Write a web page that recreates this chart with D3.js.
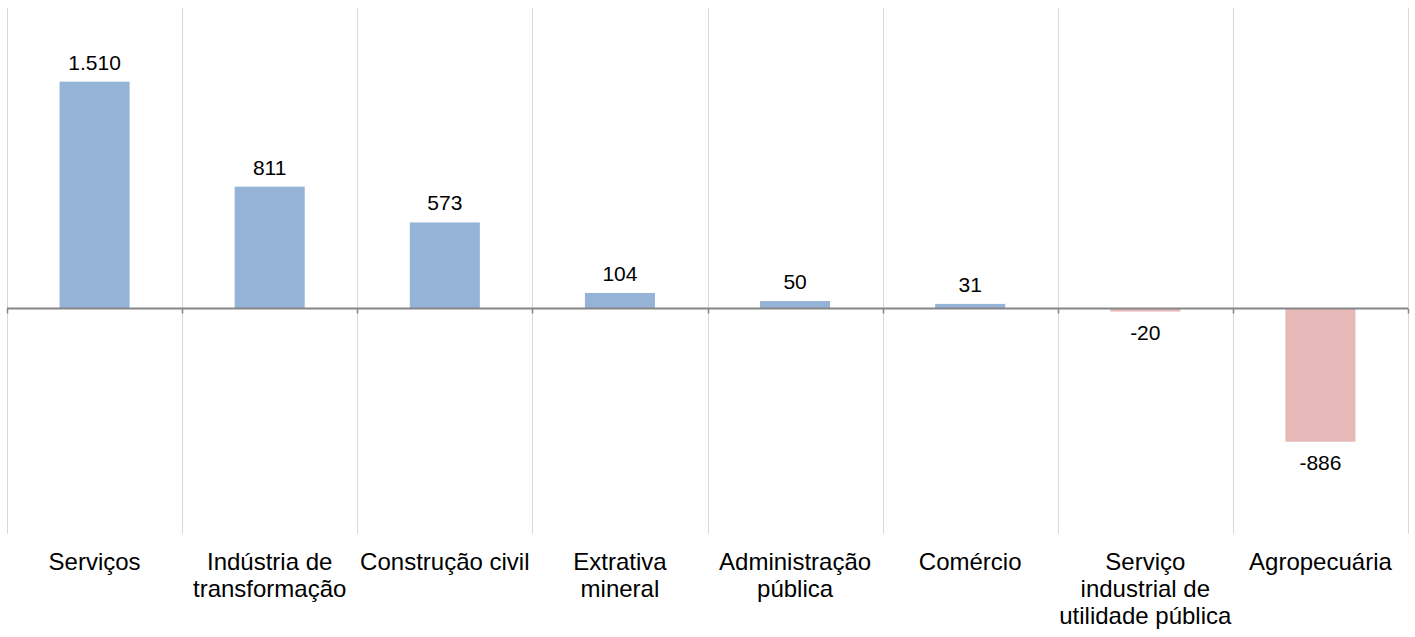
<!DOCTYPE html>
<html>
<head>
<meta charset="utf-8">
<script src="https://cdn.jsdelivr.net/npm/d3@7"></script>
<style>
  html, body { margin: 0; padding: 0; background: #fff; }
  svg { display: block; font-family: "Liberation Sans", Arial, sans-serif; }
</style>
</head>
<body>
<svg id="chart" width="1415" height="637"></svg>
<script>
const categories = [
  "Serviços",
  "Indústria de transformação",
  "Construção civil",
  "Extrativa mineral",
  "Administração pública",
  "Comércio",
  "Serviço industrial de utilidade pública",
  "Agropecuária"
];
const categoryLines = [
  ["Serviços"],
  ["Indústria de", "transformação"],
  ["Construção civil"],
  ["Extrativa", "mineral"],
  ["Administração", "pública"],
  ["Comércio"],
  ["Serviço", "industrial de", "utilidade pública"],
  ["Agropecuária"]
];
const values = [1510, 811, 573, 104, 50, 31, -20, -886];
const yDomain = [-1500, 2000];

const W = 1415, H = 637;
const margin = { left: 7, right: 7, top: 8, bottom: 103 };
const svg = d3.select("#chart");

const x = d3.scaleBand().domain(categories)
  .range([margin.left, W - margin.right]).paddingInner(0).paddingOuter(0);
const y = d3.scaleLinear().domain(yDomain).range([H - margin.bottom, margin.top]);

const locale = d3.formatLocale({ decimal: ",", thousands: ".", grouping: [3], currency: ["R$", ""], minus: "-" });
const fmt = locale.format(",d");

// vertical gridlines at category boundaries
const bounds = categories.map(c => x(c)).concat([x(categories[categories.length - 1]) + x.bandwidth()]);
svg.append("g").selectAll("line").data(bounds).join("line")
  .attr("x1", d => Math.round(d) + 0.5).attr("x2", d => Math.round(d) + 0.5)
  .attr("y1", y(yDomain[1])).attr("y2", y(yDomain[0]))
  .attr("stroke", "#d9d9d9").attr("stroke-width", 1);

// bars
const bw = x.bandwidth() * 0.4;
svg.append("g").selectAll("rect").data(values).join("rect")
  .attr("x", (d, i) => x(categories[i]) + (x.bandwidth() - bw) / 2)
  .attr("width", bw)
  .attr("y", d => y(Math.max(0, d)))
  .attr("height", d => Math.abs(y(d) - y(0)))
  .attr("fill", d => d >= 0 ? "#95b3d7" : "#e6b9b8");

// zero axis line with ticks
const y0 = y(0);
svg.append("line")
  .attr("x1", margin.left).attr("x2", W - margin.right)
  .attr("y1", y0).attr("y2", y0)
  .attr("stroke", "#868686").attr("stroke-width", 2);
svg.append("g").selectAll("line").data(bounds).join("line")
  .attr("x1", d => Math.round(d) + 0.5).attr("x2", d => Math.round(d) + 0.5)
  .attr("y1", y0).attr("y2", y0 + 5)
  .attr("stroke", "#868686").attr("stroke-width", 1.5);

// value labels
svg.append("g").selectAll("text").data(values).join("text")
  .attr("x", (d, i) => x(categories[i]) + x.bandwidth() / 2)
  .attr("y", d => d >= 0 ? y(d) - 12 : y(d) + 28.5)
  .attr("text-anchor", "middle")
  .attr("font-size", 21)
  .attr("fill", "#000")
  .text(d => fmt(d));

// category labels
const lab = svg.append("g").selectAll("text").data(categories).join("text")
  .attr("x", d => x(d) + x.bandwidth() / 2)
  .attr("y", 570)
  .attr("text-anchor", "middle")
  .attr("font-size", 24)
  .attr("fill", "#000");
lab.each(function (d, i) {
  d3.select(this).selectAll("tspan").data(categoryLines[i]).join("tspan")
    .attr("x", x(d) + x.bandwidth() / 2)
    .attr("dy", (t, j) => j === 0 ? 0 : 27)
    .text(t => t);
});
</script>
</body>
</html>
